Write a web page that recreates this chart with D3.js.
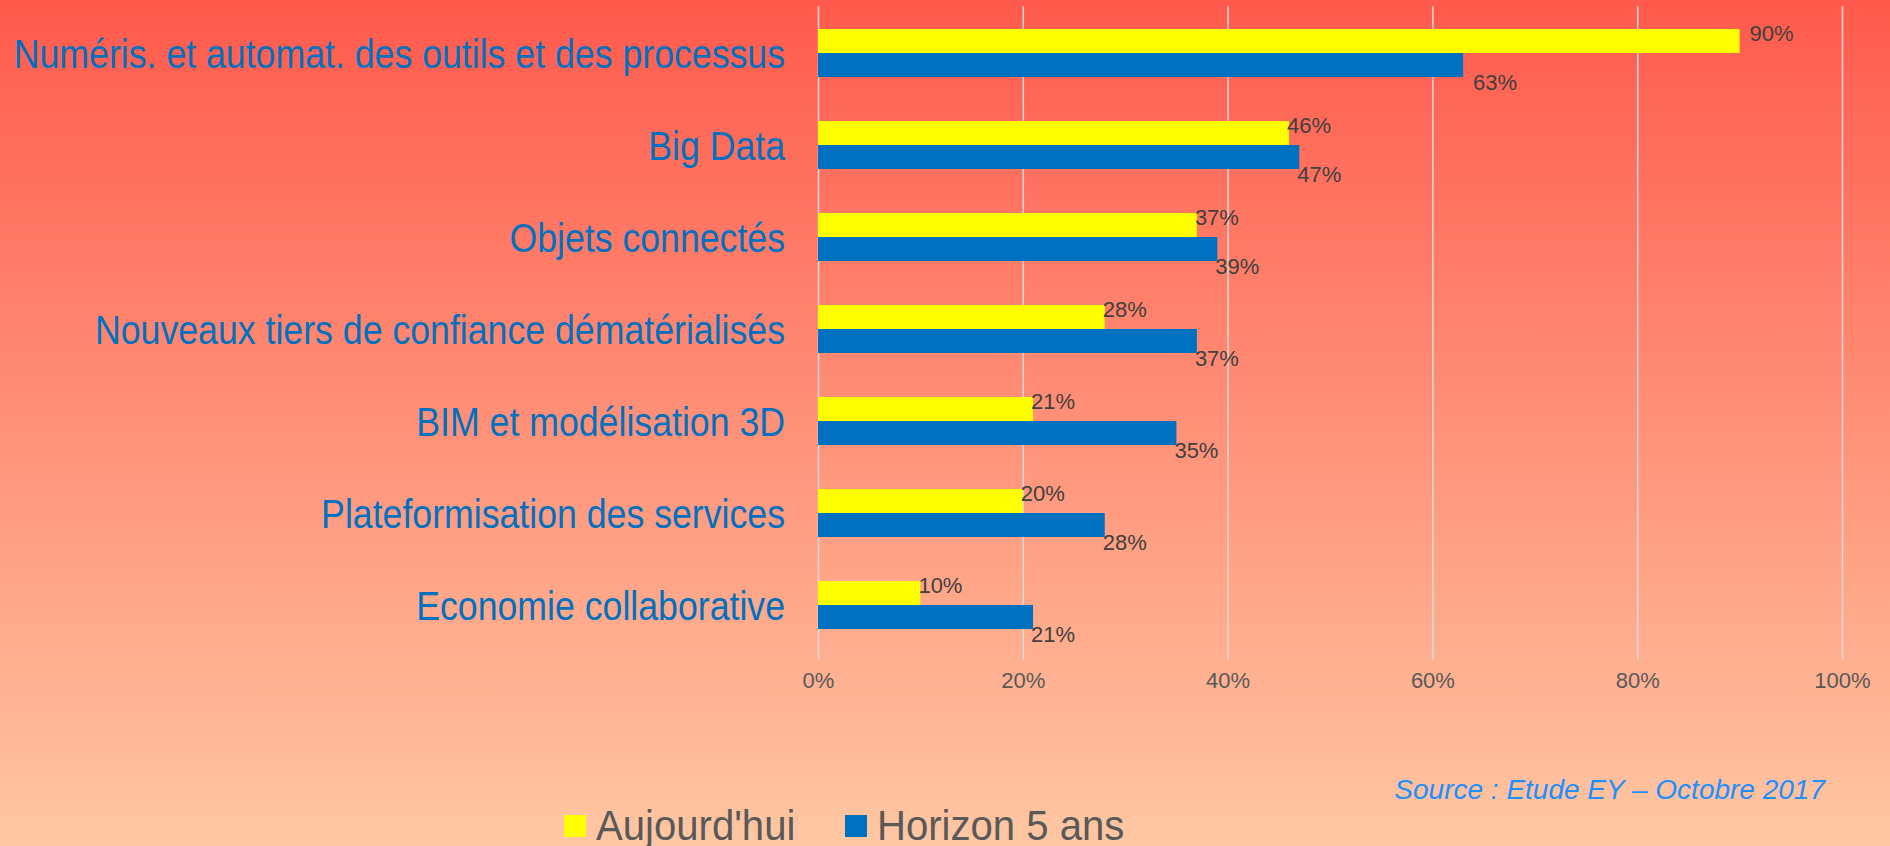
<!DOCTYPE html>
<html>
<head>
<meta charset="utf-8">
<script src="https://cdn.jsdelivr.net/npm/d3@7"></script>
<style>
  html, body { margin: 0; padding: 0; overflow: hidden; }
</style>
</head>
<body>
<div id="svg-container"></div>
<script>
// data
var categories = ["Numéris. et automat. des outils et des processus",
                  "Big Data",
                  "Objets connectés",
                  "Nouveaux tiers de confiance dématérialisés",
                  "BIM et modélisation 3D",
                  "Plateformisation des services",
                  "Economie collaborative"];
var seriesNames = ["Aujourd'hui", "Horizon 5 ans"];
var aujourdhui  = [90, 46, 37, 28, 21, 20, 10];
var horizon5    = [63, 47, 39, 37, 35, 28, 21];
var tickValues  = [0, 20, 40, 60, 80, 100];
var tickLabels  = ["0%", "20%", "40%", "60%", "80%", "100%"];
var sourceText  = "Source : Etude EY \u2013 Octobre 2017";

// sizes
var svgWidth  = 1890;
var svgHeight = 846;
var barHeight = 24;
var narrow    = 0.892;   // no narrow font installed, so squeeze the labels

// colours
var colours = d3.scaleOrdinal()
                .domain(seriesNames)
                .range(["#FFFF00", "#0070C0"]);

// rows for the bars
var rows = categories.map(function(c, i) {
  return { cat: c, values: [aujourdhui[i], horizon5[i]] };
});

// scales
var xScale = d3.scaleLinear()
                .domain([0, 100])
                .range([818, 1842]);

var yScale = d3.scaleBand()
                .domain(categories)
                .range([7, 651]);

var subScale = d3.scaleBand()
                .domain(seriesNames)
                .range([yScale.bandwidth() / 2 - barHeight, yScale.bandwidth() / 2 + barHeight]);

var svg = d3.select("#svg-container")
            .append("svg")
            .attr("width", svgWidth)
            .attr("height", svgHeight);

// background gradient
var grad = svg.append("defs")
              .append("linearGradient")
              .attr("id", "bg")
              .attr("x1", 0).attr("y1", 0)
              .attr("x2", 0).attr("y2", 1);
grad.append("stop").attr("offset", "0%").attr("stop-color", "#FF5A4C");
grad.append("stop").attr("offset", "100%").attr("stop-color", "#FFC7A3");

svg.append("rect")
    .attr("width", svgWidth)
    .attr("height", svgHeight)
    .attr("fill", "url(#bg)");

// vertical gridlines and tick labels
var xAxis = d3.axisBottom(xScale)
              .tickValues(tickValues)
              .tickFormat(function(d, i) { return tickLabels[i]; })
              .tickSize(-654)
              .tickPadding(12);

var xAxisGroup = svg.append("g")
                    .attr("transform", "translate(0, 660)")
                    .call(xAxis);

xAxisGroup.select(".domain").remove();
xAxisGroup.selectAll(".tick line")
    .attr("stroke", "#D9D9D9")
    .attr("stroke-width", 1.5);
xAxisGroup.selectAll(".tick text")
    .attr("font-family", "'Liberation Sans', Arial, sans-serif")
    .attr("font-size", 22)
    .attr("fill", "#595959");

// bars
var rowGroups = svg.selectAll(".row")
    .data(rows)
    .enter()
    .append("g")
      .attr("class", "row")
      .attr("transform", function(d) { return "translate(0," + yScale(d.cat) + ")"; });

rowGroups.selectAll("rect")
    .data(function(d) { return d.values.map(function(v, j) { return { name: seriesNames[j], value: v }; }); })
    .enter()
    .append("rect")
      .attr("x", xScale(0))
      .attr("y", function(d) { return subScale(d.name); })
      .attr("width", function(d) { return xScale(d.value) - xScale(0); })
      .attr("height", subScale.bandwidth())
      .attr("fill", function(d) { return colours(d.name); });

// value labels: first series sits on the bar top, second under the bar bottom
rowGroups.each(function(row, i) {
  var g = d3.select(this);
  row.values.forEach(function(v, j) {
    var name = seriesNames[j];
    var y = j === 0 ? subScale(name) + 4.5 : subScale(name) + subScale.bandwidth() + 5.5;
    g.append("text")
      .attr("x", xScale(v) + (i === 0 ? 10 : -2))
      .attr("y", y)
      .attr("dy", "0.35em")
      .attr("font-family", "'Liberation Sans', Arial, sans-serif")
      .attr("font-size", 22)
      .attr("fill", "#404040")
      .text(v + "%");
  });
});

// category labels
svg.selectAll(".cat")
    .data(categories)
    .enter()
    .append("text")
      .attr("class", "cat")
      .attr("transform", function(d) {
        return "translate(785," + (yScale(d) + yScale.bandwidth() / 2 + 14.5) + ") scale(" + narrow + ",1)";
      })
      .attr("text-anchor", "end")
      .attr("font-family", "'Liberation Sans', Arial, sans-serif")
      .attr("font-size", 40)
      .attr("fill", "#0070C0")
      .text(function(d) { return d; });

// source note
svg.append("text")
    .attr("x", 1825)
    .attr("y", 799)
    .attr("text-anchor", "end")
    .attr("font-family", "'Liberation Sans', Arial, sans-serif")
    .attr("font-style", "italic")
    .attr("font-size", 28)
    .attr("fill", "#1E8FFF")
    .text(sourceText);

// legend
var legendX = d3.scaleOrdinal()
                .domain(seriesNames)
                .range([564, 845]);

var legend = svg.selectAll(".legend")
    .data(seriesNames)
    .enter()
    .append("g")
      .attr("class", "legend")
      .attr("transform", function(d) { return "translate(" + legendX(d) + ",815)"; });

legend.append("rect")
    .attr("width", 22)
    .attr("height", 22)
    .attr("fill", function(d) { return colours(d); });

legend.append("text")
    .attr("transform", "translate(32,25) scale(0.955,1)")
    .attr("font-family", "'Liberation Sans', Arial, sans-serif")
    .attr("font-size", 42)
    .attr("fill", "#595959")
    .text(function(d) { return d; });
</script>
</body>
</html>
